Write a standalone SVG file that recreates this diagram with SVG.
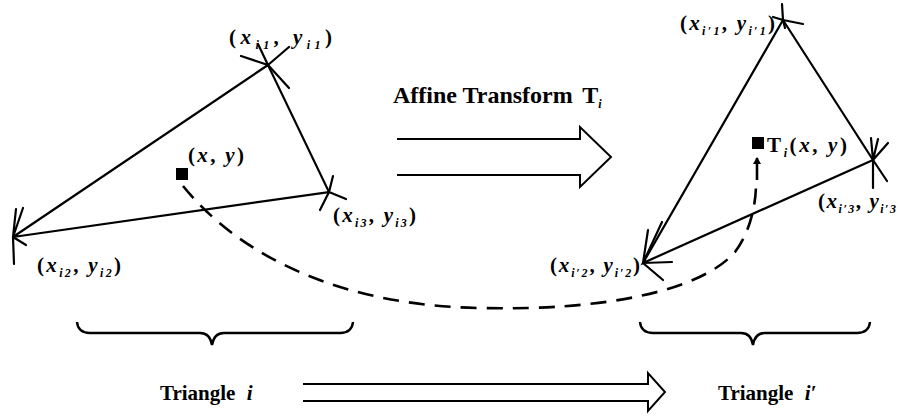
<svg xmlns="http://www.w3.org/2000/svg" width="898" height="417" viewBox="0 0 898 417">
<defs>
<style>
.e{stroke:#000;stroke-width:2.2;fill:none;stroke-linecap:round}
.k{stroke:#000;stroke-width:2.2;fill:none;stroke-linecap:round}
.d{stroke:#000;stroke-width:2.6;fill:none;stroke-dasharray:16 10}
.h{stroke:#000;stroke-width:2;fill:none;stroke-linejoin:miter}
.b{stroke:#000;stroke-width:2.4;fill:none}
.m{font-family:"Liberation Serif",serif;font-size:21px;fill:#000;font-weight:bold}
.v{font-style:italic}
.s{font-size:12px;font-style:italic}
.t{font-family:"Liberation Serif",serif;font-size:21px;font-weight:bold;fill:#000}
</style>
<marker id="ah" markerWidth="8" markerHeight="8" refX="6" refY="4" orient="auto" markerUnits="userSpaceOnUse">
<path d="M0,0 L7,4 L0,8 Z" fill="#000"/>
</marker>
</defs>
<rect width="898" height="417" fill="#fff"/>

<g id="triangle-i">
<path class="e" d="M268,65 L13,237 L329,192 Z"/>
<path class="k" d="M268,65 L258,44 M268,65 L241,56 M268,65 L289,47 M268,65 L289,88"/>
<path class="k" d="M329,192 L333,176 M329,192 L346,199 M329,192 L320,210"/>
<path class="k" d="M13,237 L16,209 M13,237 L23,208 M13,237 L14,264 M13,237 L26,245"/>
</g>
<g id="label-i1"><text class="m" x="229" y="44" textLength="103" lengthAdjust="spacing">(<tspan class="v">x</tspan><tspan class="s" dy="5">i1</tspan><tspan dy="-5">, </tspan><tspan class="v">y</tspan><tspan class="s" dy="5">i1</tspan><tspan dy="-5">)</tspan></text></g>
<g id="label-i2"><text class="m" x="37" y="272" textLength="84" lengthAdjust="spacing">(<tspan class="v">x</tspan><tspan class="s" dy="5">i2</tspan><tspan dy="-5">, </tspan><tspan class="v">y</tspan><tspan class="s" dy="5">i2</tspan><tspan dy="-5">)</tspan></text></g>
<g id="label-i3"><text class="m" x="333" y="222" textLength="83" lengthAdjust="spacing">(<tspan class="v">x</tspan><tspan class="s" dy="5">i3</tspan><tspan dy="-5">, </tspan><tspan class="v">y</tspan><tspan class="s" dy="5">i3</tspan><tspan dy="-5">)</tspan></text></g>
<g id="point-xy">
<rect x="176" y="168" width="12" height="12" fill="#000"/>
<text class="m" x="188" y="162" textLength="56" lengthAdjust="spacing">(<tspan class="v">x</tspan>, <tspan class="v">y</tspan>)</text>
</g>

<g id="affine-arrow">
<text class="t" x="393" y="103" style="font-size:24px">Affine Transform <tspan dx="4">T</tspan><tspan class="s" dy="5">i</tspan></text>
<path class="h" d="M397,139 H580 V127 L611,157 L580,187 V175 H397"/>
</g>

<g id="triangle-i-prime">
<path class="e" d="M783,20 L643,263 L873,160 Z"/>
<path class="k" d="M783,20 L782,4 M783,20 L785,28 M783,20 L773,17 M783,20 L803,24"/>
<path class="k" d="M873,160 L871,138 M873,160 L878,139 M873,160 L888,143 M873,160 L873,188 M873,160 L887,181"/>
<path class="k" d="M643,263 L648,230 M643,263 L662,222 M643,263 L672,262 M643,263 L663,280"/>
</g>
<g id="label-r1"><text class="m" x="680" y="30" textLength="95" lengthAdjust="spacing">(<tspan class="v">x</tspan><tspan class="s" dy="5">i′1</tspan><tspan dy="-5">, </tspan><tspan class="v">y</tspan><tspan class="s" dy="5">i′1</tspan><tspan dy="-5">)</tspan></text></g>
<g id="label-r2"><text class="m" x="550" y="272" textLength="90" lengthAdjust="spacing">(<tspan class="v">x</tspan><tspan class="s" dy="5">i′2</tspan><tspan dy="-5">, </tspan><tspan class="v">y</tspan><tspan class="s" dy="5">i′2</tspan><tspan dy="-5">)</tspan></text></g>
<g id="label-r3"><text class="m" x="818" y="208" textLength="78" lengthAdjust="spacing">(<tspan class="v">x</tspan><tspan class="s" dy="5">i′3</tspan><tspan dy="-5">, </tspan><tspan class="v">y</tspan><tspan class="s" dy="5">i′3</tspan></text></g>
<g id="point-txy">
<rect x="752" y="137" width="12" height="12" fill="#000"/>
<text class="m" x="767" y="152" textLength="80" lengthAdjust="spacing">T<tspan class="s" dy="5">i</tspan><tspan dy="-5">(</tspan><tspan class="v">x</tspan>, <tspan class="v">y</tspan>)</text>
</g>

<g id="connectors">
<path class="d" d="M183,186 C245,262 350,306 480,308 C600,311 700,292 735,252 C750,232 756,205 756,184"/>
<line x1="757" y1="180" x2="757" y2="158" stroke="#000" stroke-width="2.6" marker-end="url(#ah)"/>
</g>

<g id="brace-left"><path class="b" d="M77,322 Q78,333 90,333 H200 Q210,333 212,345 Q214,333 224,333 H340 Q352,333 353,322"/></g>
<g id="brace-right"><path class="b" d="M640,322 Q641,333 653,333 H741 Q751,333 753,345 Q755,333 765,333 H857 Q869,333 870,322"/></g>
<g id="caption-left"><text class="t" x="160" y="400">Triangle <tspan class="v" dx="6">i</tspan></text></g>
<g id="caption-right"><text class="t" x="718" y="400">Triangle <tspan class="v" dx="6">i′</tspan></text></g>
<g id="bottom-arrow">
<path class="h" d="M303,384 H648 V373 L665,392 L648,411 V401 H303"/>
</g>
</svg>
